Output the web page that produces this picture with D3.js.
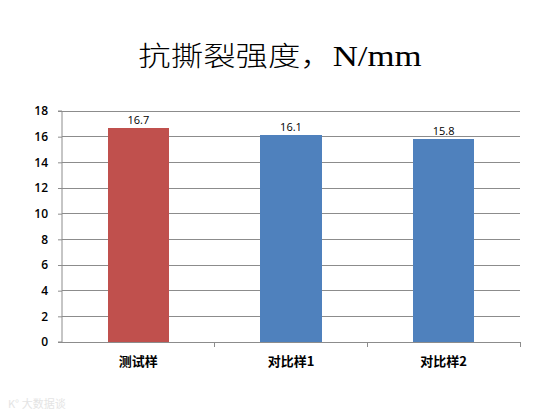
<!DOCTYPE html>
<html lang="zh">
  <head>
    <meta charset="UTF-8" />
    <script src="https://d3js.org/d3.v7.min.js"></script>
    <style>
      body { margin: 0; background: #fff; }
      svg { display: block; }
    </style>
  </head>
  <body>
    <div id="chart"></div>
    <script>
      // chart data
      const categories = ["测试样", "对比样1", "对比样2"];
      const values = [16.7, 16.1, 15.8];
      const barColors = ["#C0504D", "#4F81BD", "#4F81BD"];
      const yTicks = [0, 2, 4, 6, 8, 10, 12, 14, 16, 18];

      const W = 558, H = 419;
      const margin = { top: 111, right: 38, bottom: 77, left: 62 };
      const width = W - margin.left - margin.right,
        height = H - margin.top - margin.bottom;

      const svg = d3.select("#chart").append("svg")
        .attr("width", W).attr("height", H);

      // title (slide is stretched horizontally, so scale the text a bit)
      const title = svg.append("text")
        .attr("transform", "translate(280,66) scale(1.2,1)")
        .attr("text-anchor", "middle")
        .style("font-size", "27px")
        .attr("fill", "#000");
      title.append("tspan")
        .style("font-family", "'Noto Sans CJK SC', sans-serif")
        .style("font-weight", "300")
        .text("抗撕裂强度，");
      title.append("tspan")
        .style("font-family", "'Liberation Serif', serif")
        .style("font-size", "29px")
        .text("N/mm");

      const g = svg.append("g")
        .attr("transform", "translate(" + margin.left + "," + margin.top + ")");

      const x = d3.scaleBand().domain(categories).range([0, width]).padding(0);
      const y = d3.scaleLinear().domain([0, 18]).range([height, 0]);

      // gridlines
      g.selectAll(".grid").data(yTicks.filter(d => d > 0)).enter()
        .append("line")
        .attr("x1", 0).attr("x2", width)
        .attr("y1", d => y(d)).attr("y2", d => y(d))
        .attr("stroke", "#8c8c8c").attr("stroke-width", 1)
        .attr("shape-rendering", "crispEdges");

      // bars
      const barW = x.bandwidth() * 0.4;
      g.selectAll(".bar").data(values).enter()
        .append("rect")
        .attr("x", (d, i) => x(categories[i]) + (x.bandwidth() - barW) / 2)
        .attr("width", barW)
        .attr("y", d => y(d))
        .attr("height", d => height - y(d))
        .attr("fill", (d, i) => barColors[i])
        .attr("shape-rendering", "crispEdges");

      // value labels
      g.selectAll(".lbl").data(values).enter()
        .append("text")
        .attr("x", (d, i) => x(categories[i]) + x.bandwidth() / 2)
        .attr("y", d => y(d) - 4)
        .attr("text-anchor", "middle")
        .style("font-family", "'Open Sans', sans-serif")
        .style("font-size", "11px")
        .attr("fill", "#000")
        .text(d => d.toFixed(1));

      // y axis
      const yAxis = g.append("g")
        .call(d3.axisLeft(y).tickValues(yTicks).tickSize(4).tickPadding(10).tickFormat(d3.format("d")));
      yAxis.select(".domain").attr("stroke", "#8c8c8c").attr("d", "M-4," + height + "H0V0H-4");
      yAxis.selectAll(".tick line").attr("stroke", "#8c8c8c");
      yAxis.selectAll(".tick text")
        .style("font-family", "'Open Sans', sans-serif")
        .style("font-size", "12px")
        .style("font-weight", "600")
        .attr("fill", "#000");

      // x axis: tick marks at category boundaries
      const xg = g.append("g").attr("transform", "translate(0," + height + ")");
      xg.append("line").attr("x1", 0).attr("x2", width).attr("y1", 0).attr("y2", 0)
        .attr("stroke", "#8c8c8c").attr("shape-rendering", "crispEdges");
      xg.selectAll(".xt").data(categories).enter()
        .append("line")
        .attr("x1", d => x(d) + x.bandwidth()).attr("x2", d => x(d) + x.bandwidth())
        .attr("y1", 0).attr("y2", 5)
        .attr("stroke", "#8c8c8c").attr("shape-rendering", "crispEdges");
      xg.selectAll(".xl").data(categories).enter()
        .append("text")
        .attr("x", d => x(d) + x.bandwidth() / 2)
        .attr("y", 24)
        .attr("text-anchor", "middle")
        .style("font-family", "'Noto Sans CJK SC', sans-serif")
        .style("font-size", "13px")
        .style("font-weight", "bold")
        .attr("fill", "#000")
        .text(d => d);

      // faint watermark
      svg.append("text")
        .attr("x", 8).attr("y", 408)
        .style("font-family", "'Noto Sans CJK SC', sans-serif")
        .style("font-size", "11px")
        .attr("fill", "#e4e4e4")
        .text("K° 大数据谈");
    </script>
  </body>
</html>
